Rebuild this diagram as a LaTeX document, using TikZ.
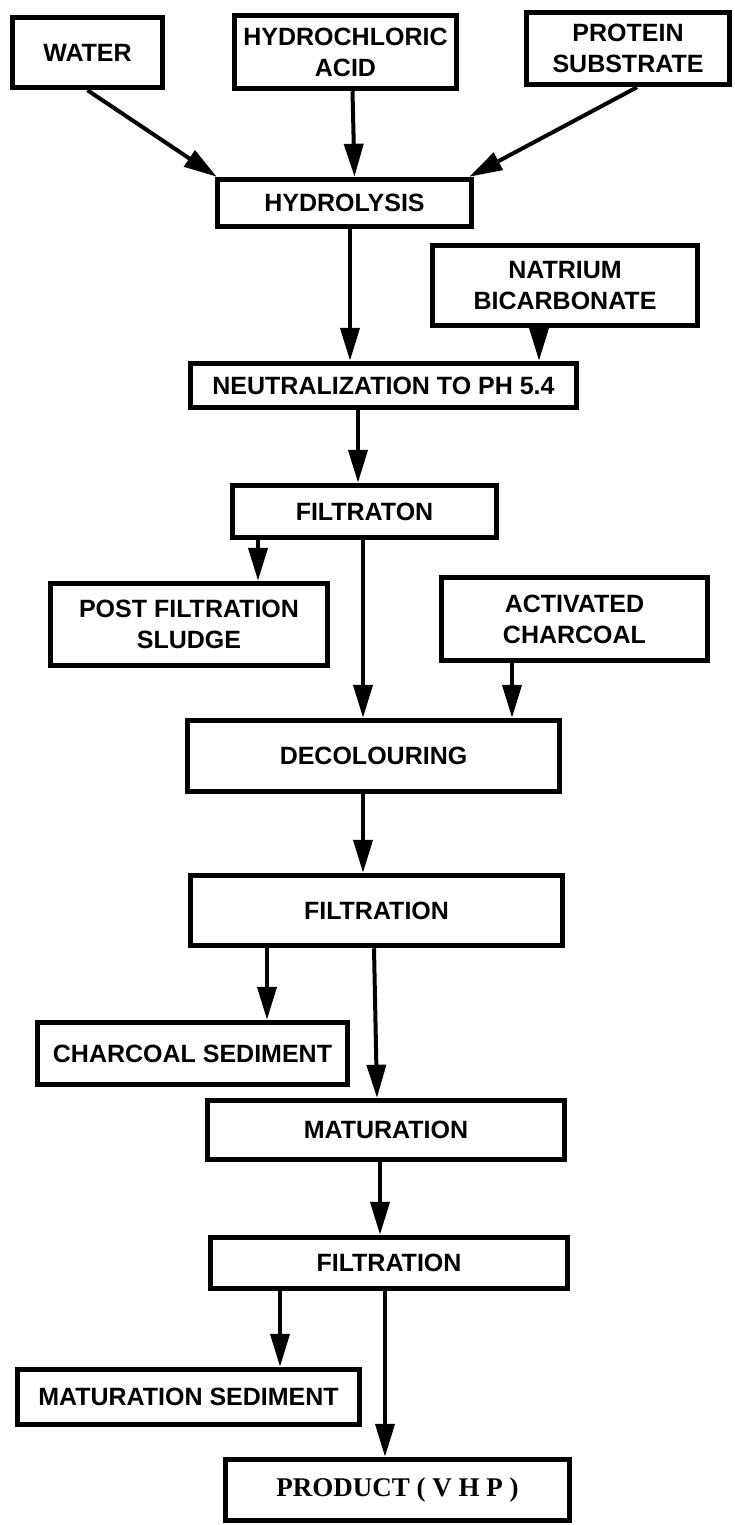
\documentclass[tikz,border=0pt]{standalone}
\usepackage{fontspec}
\setmainfont{Liberation Sans}
\newfontfamily\prodfont{Liberation Serif}
\usetikzlibrary{arrows.meta}
\begin{document}
\begin{tikzpicture}[x=1pt,y=-1pt,
  box/.style={draw, line width=5.5pt, inner sep=0pt, align=center,
    font=\fontsize{25}{31}\selectfont\bfseries},
  arr/.style={line width=4pt, -{Triangle[length=33pt,width=19pt]}}]
\useasboundingbox (0,0) rectangle (735,1525);
% top inputs
\node[box, minimum width=150pt, minimum height=70pt] (water) at (87.5,52.5) {WATER};
\node[box, minimum width=222pt, minimum height=73pt] (hcl) at (345.5,52) {HYDROCHLORIC\\ACID};
\node[box, minimum width=203pt, minimum height=72pt] (protein) at (628,48.5) {PROTEIN\\SUBSTRATE};
\node[box, minimum width=254pt, minimum height=47pt] (hydro) at (344.5,203) {HYDROLYSIS};
\node[box, minimum width=265pt, minimum height=80pt] (natrium) at (565,285.5) {NATRIUM\\BICARBONATE};
\node[box, minimum width=386pt, minimum height=44pt] (neut) at (383.5,385.5) {NEUTRALIZATION TO PH 5.4};
\node[box, minimum width=264pt, minimum height=52pt] (filt1) at (364.5,511.5) {FILTRATON};
\node[box, minimum width=277pt, minimum height=82pt] (sludge) at (189,624.5) {POST FILTRATION\\SLUDGE};
\node[box, minimum width=266pt, minimum height=83pt] (actc) at (574.5,619) {ACTIVATED\\CHARCOAL};
\node[box, minimum width=372pt, minimum height=71pt] (decol) at (373.5,756) {DECOLOURING};
\node[box, minimum width=372pt, minimum height=70pt] (filt2) at (376.5,910.5) {FILTRATION};
\node[box, minimum width=310pt, minimum height=62pt] (charsed) at (192.5,1053.5) {CHARCOAL SEDIMENT};
\node[box, minimum width=357pt, minimum height=59pt] (matur) at (386,1130) {MATURATION};
\node[box, minimum width=357pt, minimum height=51pt] (filt3) at (389,1263) {FILTRATION};
\node[box, minimum width=342pt, minimum height=55pt] (matsed) at (188.5,1397) {MATURATION SEDIMENT};
\node[box, minimum width=344pt, minimum height=61pt,
  font=\fontsize{27}{31}\selectfont\prodfont\bfseries] (product) at (397.5,1490) {PRODUCT ( V H P )};
% connectors
\draw[arr] (water.south) -- ([xshift=2pt]hydro.north west);
\draw[arr] ([xshift=7pt]hcl.south) -- ([xshift=10pt]hydro.north);
\draw[arr] ([xshift=9pt]protein.south) -- ([xshift=-5pt]hydro.north east);
\draw[arr] ([xshift=5.5pt]hydro.south) -- ([xshift=-33.5pt]neut.north);
\draw[arr] ([xshift=-26pt]natrium.south) -- ([xshift=155.5pt]neut.north);
\draw[arr] ([xshift=-25.5pt]neut.south) -- ([xshift=-6.5pt]filt1.north);
\draw[arr] ([xshift=-106.5pt]filt1.south) -- ([xshift=69pt]sludge.north);
\draw[arr] ([xshift=-1.5pt]filt1.south) -- ([xshift=-10.5pt]decol.north);
\draw[arr] ([xshift=-62.5pt]actc.south) -- ([xshift=138.5pt]decol.north);
\draw[arr] ([xshift=-10.5pt]decol.south) -- ([xshift=-13.5pt]filt2.north);
\draw[arr] ([xshift=-109.5pt]filt2.south) -- ([xshift=74.5pt]charsed.north);
\draw[arr] ([xshift=-2.5pt]filt2.south) -- ([xshift=-9pt]matur.north);
\draw[arr] ([xshift=-6pt]matur.south) -- ([xshift=-9pt]filt3.north);
\draw[arr] ([xshift=-109pt]filt3.south) -- ([xshift=91.5pt]matsed.north);
\draw[arr] ([xshift=-4pt]filt3.south) -- ([xshift=-12.5pt]product.north);
\end{tikzpicture}
\end{document}
